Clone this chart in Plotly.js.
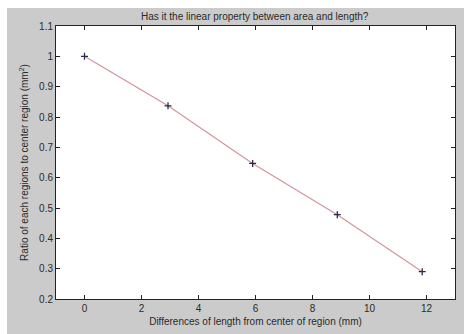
<!DOCTYPE html>
<html>
<head>
<meta charset="utf-8">
<script src="https://cdn.plot.ly/plotly-3.0.1.min.js"></script>
<style>
html,body{margin:0;padding:0;background:#ffffff;width:471px;height:334px;overflow:hidden;}
#chart{position:absolute;left:7px;top:8px;width:457px;height:326px;}
</style>
</head>
<body>
<div id="chart"></div>
<script>
const distances = [0, 2.93, 5.9, 8.87, 11.85];
const ratios = [1.0, 0.837, 0.647, 0.478, 0.29];
const xTicks = [0, 2, 4, 6, 8, 10, 12];
const yTicks = [0.2, 0.3, 0.4, 0.5, 0.6, 0.7, 0.8, 0.9, 1, 1.1];

const traces = [
  {
    x: distances, y: ratios, mode: 'lines',
    line: {color: '#d4949c', width: 1.2},
    hoverinfo: 'skip', showlegend: false
  },
  {
    x: distances, y: ratios, mode: 'markers',
    marker: {symbol: 'cross-thin', size: 5, color: '#2a2a4a', line: {color: '#2a2a4a', width: 1.3}},
    showlegend: false
  }
];

const axisFont = {family: 'Liberation Sans, Arial, sans-serif', size: 10, color: '#2a2a2a'};

const layout = {
  width: 457, height: 326,
  paper_bgcolor: '#cbcbcb',
  plot_bgcolor: '#ffffff',
  margin: {l: 49, r: 9, t: 18, b: 35},
  title: {
    text: 'Has it the linear property between area and length?',
    font: {family: 'Liberation Sans, Arial, sans-serif', size: 10, color: '#2a2a2a'},
    x: 0.542, xanchor: 'center', y: 0.985, yanchor: 'top'
  },
  xaxis: {
    range: [-1, 13], tickvals: xTicks, ticktext: xTicks.map(String),
    ticks: 'inside', ticklen: 4, tickcolor: '#222', mirror: 'allticks',
    showline: true, linecolor: '#222', linewidth: 1,
    showgrid: false, zeroline: false, tickfont: axisFont,
    title: {text: 'Differences of length from center of region (mm)', font: axisFont, standoff: 4}
  },
  yaxis: {
    range: [0.2, 1.1], tickvals: yTicks, ticktext: yTicks.map(String),
    ticks: 'inside', ticklen: 4, tickcolor: '#222', mirror: 'allticks',
    showline: true, linecolor: '#222', linewidth: 1,
    showgrid: false, zeroline: false, tickfont: axisFont,
    title: {text: 'Ratio of each regions to center region (mm<sup>2</sup>)', font: axisFont, standoff: 8}
  }
};

Plotly.newPlot('chart', traces, layout, {displayModeBar: false, staticPlot: true});
</script>
</body>
</html>
